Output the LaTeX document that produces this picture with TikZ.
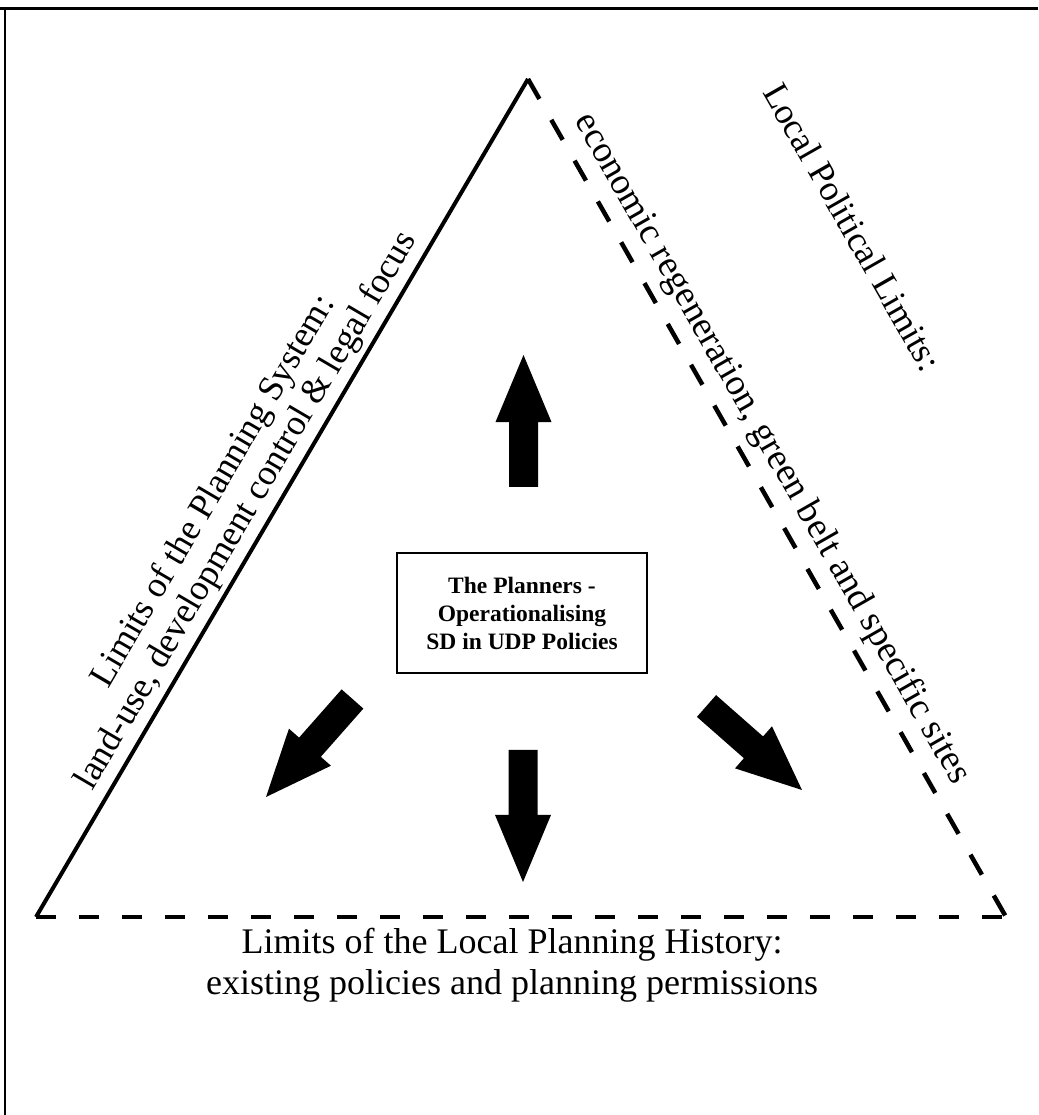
\documentclass[tikz,border=0pt]{standalone}
\usepackage{fontspec}
\setmainfont{Liberation Serif}
\usetikzlibrary{calc}

% Fat block arrow from tail #1 to tip #2
\newcommand\fatarrow[2]{%
  \fill ($(#1)!14.5pt!90:(#2)$)
     -- ($(#1)!0.492!(#2)!14.5pt!90:(#2)$)
     -- ($(#1)!0.492!(#2)!28pt!90:(#2)$)
     -- (#2)
     -- ($(#1)!0.492!(#2)!28pt!-90:(#2)$)
     -- ($(#1)!0.492!(#2)!14.5pt!-90:(#2)$)
     -- ($(#1)!14.5pt!-90:(#2)$) -- cycle;}

\begin{document}
\begin{tikzpicture}[x=1pt,y=1pt,
  solidedge/.style={line width=4pt},
  dashededge/.style={line width=4.5pt, dash pattern=on 23pt off 24pt},
  baseedge/.style={line width=4pt, dash pattern=on 20pt off 23pt},
  bigtext/.style={font=\fontsize{36}{41}\selectfont, align=center, inner sep=0pt},
  boxnode/.style={draw, line width=2.5pt, minimum width=250pt, minimum height=120pt,
    align=center, inner sep=0pt, font=\fontsize{23.5}{28}\selectfont\bfseries}]

\useasboundingbox (0,0) rectangle (1038,1115);

% frame
\draw[line width=3pt] (0,1106) -- (1038,1106);
\draw[line width=2.5pt] (5,1106) -- (5,0);

% triangle corners
\coordinate (apex) at (528,1036);
\coordinate (bl) at (36,198);
\coordinate (br) at (1006,198);

\draw[solidedge] (bl) -- (apex)
  node[bigtext, font=\fontsize{36}{38}\selectfont, pos=0.47, sloped, above=5pt] (limSys)
  {Limits of the Planning System:\\land-use, development control \& legal focus};
\draw[dashededge] (apex) -- (br)
  node[bigtext, font=\fontsize{37}{41}\selectfont, pos=0.458, sloped, above=9pt] (limPolB)
  {economic regeneration, green belt and specific sites};
\path (apex) -- (br)
  node[bigtext, pos=0.30, sloped, above=196pt] (limPolA) {Local Political Limits:};
\draw[baseedge] (bl) -- (br);

\node[bigtext] (limHist) at (512,150)
  {Limits of the Local Planning History:\\existing policies and planning permissions};

% centre box
\node[boxnode] (planners) at (522,502) {The Planners -\\Operationalising\\SD in UDP Policies};

% block arrows
\coordinate (upT) at (523.5,628);  \coordinate (upH) at (523.5,760);
\coordinate (dnT) at (523,365);    \coordinate (dnH) at (523,233);
\coordinate (dlT) at (352.5,416);  \coordinate (dlH) at (266,318);
\coordinate (drT) at (706.5,409);  \coordinate (drH) at (802,325);
\fatarrow{upT}{upH}
\fatarrow{dnT}{dnH}
\fatarrow{dlT}{dlH}
\fatarrow{drT}{drH}
\end{tikzpicture}
\end{document}
